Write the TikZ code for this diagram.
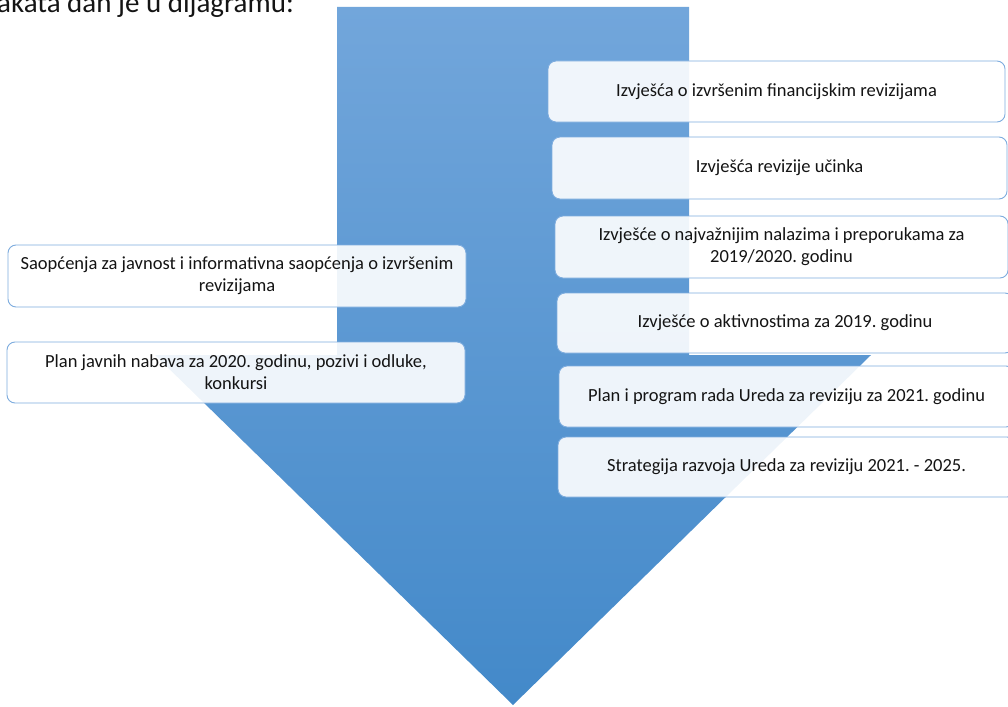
\documentclass[tikz,border=0pt]{standalone}
\usepackage{fontspec}
\setmainfont{Carlito}
\frenchspacing

\definecolor{arrowtop}{RGB}{114,166,219}
\definecolor{arrowbottom}{RGB}{67,137,201}
\definecolor{boxline}{RGB}{125,172,222}
\definecolor{boxtext}{RGB}{20,20,20}

\tikzset{
  itembox/.style={draw=boxline, line width=0.9pt, fill=white, fill opacity=0.9,
    text opacity=1, rounded corners=8pt, align=center, text=boxtext,
    font=\fontsize{18.5}{22}\selectfont, inner sep=0pt},
}

\begin{document}
\begin{tikzpicture}[x=1pt, y=-1pt]

    \useasboundingbox (0,0) rectangle (1008,706);

    % draw arrow
    \shade[top color=arrowtop, bottom color=arrowbottom]
        (337,7) -- (689,7) -- (689,355) -- (871,355) -- (513,705)
        -- (155,355) -- (337,355) -- cycle;

    % add heading
    \node[anchor=base west, inner sep=0pt, font=\fontsize{29}{34}\selectfont, text=boxtext]
        (heading) at (-3,13) {akata dan je u dijagramu:};

    % add boxes on the right
    \node[itembox, minimum width=457, minimum height=61] (rep1) at (776.5,91.5)
        {Izvješća o izvršenim financijskim revizijama};
    \node[itembox, minimum width=455, minimum height=62] (rep2) at (779.5,168)
        {Izvješća revizije učinka};
    \node[itembox, minimum width=453, minimum height=62] (rep3) at (781.5,247)
        {Izvješće o najvažnijim nalazima i preporukama za\\2019/2020. godinu};
    \node[itembox, minimum width=456, minimum height=60] (rep4) at (785,323)
        {Izvješće o aktivnostima za 2019. godinu};
    \node[itembox, minimum width=455, minimum height=61] (rep5) at (786.5,396.5)
        {Plan i program rada Ureda za reviziju za 2021. godinu};
    \node[itembox, minimum width=457, minimum height=60] (rep6) at (786.5,467)
        {Strategija razvoja Ureda za reviziju 2021. - 2025.};

    % add boxes on the left
    \node[itembox, minimum width=458, minimum height=62] (pub1) at (237,276)
        {Saopćenja za javnost i informativna saopćenja o izvršenim\\revizijama};
    \node[itembox, minimum width=458, minimum height=61] (pub2) at (236,372.5)
        {Plan javnih nabava za 2020. godinu, pozivi i odluke,\\konkursi};

\end{tikzpicture}
\end{document}
